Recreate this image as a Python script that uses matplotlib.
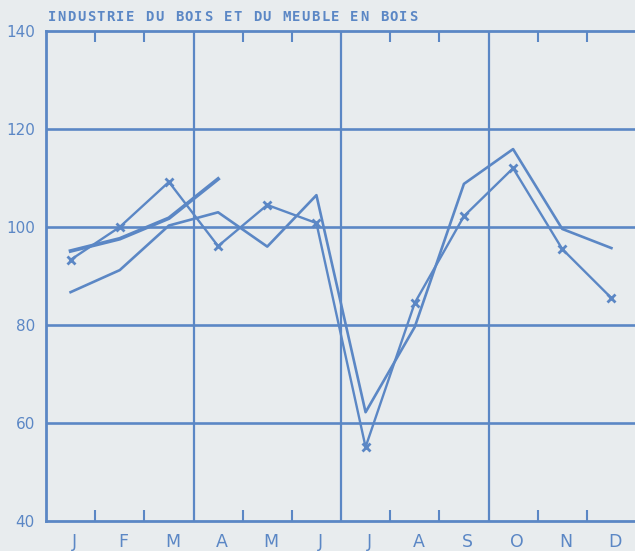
import numpy as np
import matplotlib
matplotlib.use('Agg')
import matplotlib.pyplot as plt

months = ['J', 'F', 'M', 'A', 'M', 'J', 'J', 'A', 'S', 'O', 'N', 'D']
# series with x markers
serie_x = [93.3, 100.0, 109.2, 96.1, 104.5, 100.8, 55.1, 84.5, 102.2, 112.0, 95.5, 85.5]
# plain series
serie_plain = [86.7, 91.2, 100.3, 103.0, 96.0, 106.5, 62.2, 79.6, 108.8, 115.9, 99.6, 95.7]
# thick series, only first 4 months
serie_thick = [95.1, 97.6, 101.8, 109.8]
yticks = [40, 60, 80, 100, 120, 140]
title = 'INDUSTRIE DU BOIS ET DU MEUBLE EN BOIS'

bg = '#e8ecee'
blue = '#5b87c5'

fig = plt.figure(figsize=(6.35, 5.51), dpi=100, facecolor=bg)
ax = fig.add_axes([46 / 635, 30 / 551, 590 / 635, 490 / 551])
ax.set_facecolor(bg)

x = np.arange(12) + 0.5
ax.plot(x, serie_plain, color=blue, lw=1.9)
ax.plot(x, serie_x, color=blue, lw=1.7, marker='x', ms=6, mew=2)
ax.plot(x[:len(serie_thick)], serie_thick, color=blue, lw=2.7)

ax.set_xlim(0, 12)
ax.set_ylim(40, 140)

for y in yticks[1:-1]:
    ax.axhline(y, color=blue, lw=1.9)
for q in [3, 6, 9]:
    ax.axvline(q, color=blue, lw=1.6)

for s in ['left', 'top', 'bottom']:
    ax.spines[s].set_color(blue)
    ax.spines[s].set_linewidth(2)
ax.spines['right'].set_visible(False)

minor = [m for m in range(1, 12) if m % 3 != 0]
ax.set_xticks(minor)
ax.set_xticklabels([])
ax.tick_params(axis='x', which='both', direction='in', top=True, bottom=True,
               length=8, width=1.5, color=blue)
for i, m in enumerate(months):
    ax.text(i + 0.58, -0.025, m, transform=ax.get_xaxis_transform(),
            ha='center', va='top', fontsize=12.5, color=blue)

ax.set_yticks(yticks)
ax.set_yticklabels([str(v) for v in yticks], fontsize=11, color=blue)
ax.tick_params(axis='y', length=0, pad=8)

# plotter style title: evenly spaced letters
pitch = 9.76
for i, ch in enumerate(title):
    fig.text((52 + i * pitch) / 635, 1 - 17 / 551, ch, ha='center', va='center',
             fontsize=10, color=blue, family='DejaVu Sans Mono', fontweight='bold')

fig.savefig('out.png', dpi=100, facecolor=bg)
